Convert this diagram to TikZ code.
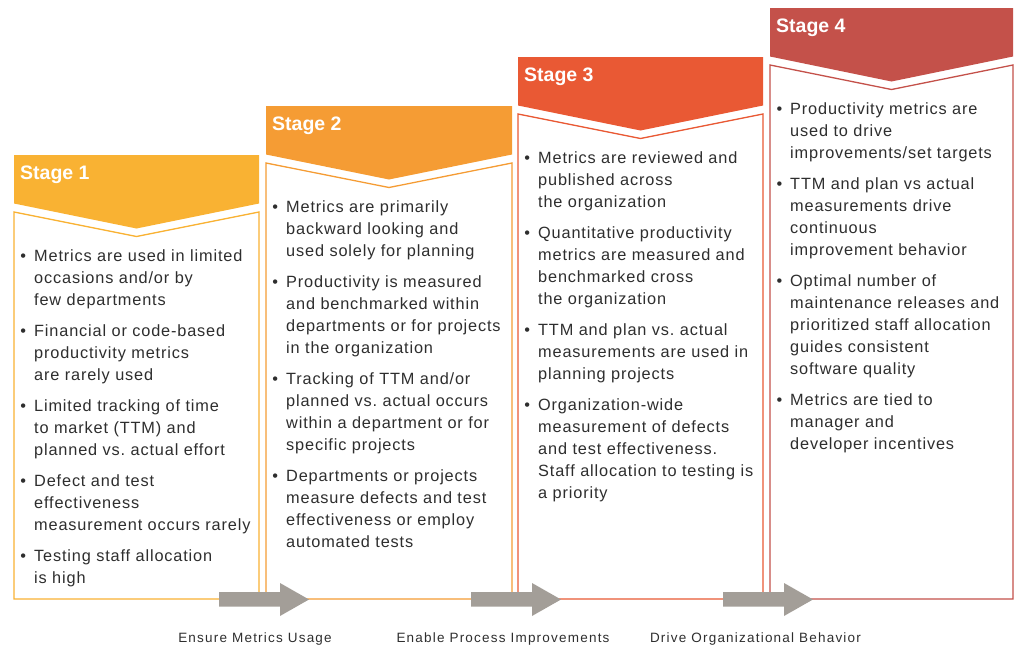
\documentclass[tikz,border=0pt]{standalone}
\usepackage{fontspec}
\setmainfont{Liberation Sans}
\newfontfamily\bodyfont[LetterSpace=5.2]{Liberation Sans}
\newfontfamily\labelfont[LetterSpace=9]{Liberation Sans}

\definecolor{stageA}{HTML}{F9B233}
\definecolor{stageB}{HTML}{F59C34}
\definecolor{stageC}{HTML}{E95934}
\definecolor{stageD}{HTML}{C4514A}
\definecolor{bodytext}{HTML}{2E2E2E}
\definecolor{flowgray}{HTML}{A39E98}

% bullet hung into the left margin of an item
\newcommand\itembullet{\leavevmode\llap{\textbullet\hspace{8pt}}}

\tikzset{
  banner/.style={fill=#1},
  panel/.style={draw=#1, line width=1.3pt, fill=white},
  stagetitle/.style={anchor=base west, inner sep=0pt, text=white,
    font=\bfseries\fontsize{19.5}{22}\selectfont},
  body/.style={anchor=north west, inner sep=0pt, text width=300pt, align=left,
    text=bodytext, font=\bodyfont\fontsize{16.3}{22.05}\selectfont\frenchspacing},
  flowlabel/.style={anchor=base, inner sep=0pt, text=bodytext,
    font=\labelfont\fontsize{13.5}{16}\selectfont},
  flowarrow/.style={fill=flowgray}
}

\begin{document}
\begin{tikzpicture}[x=1pt,y=-1pt]
\useasboundingbox (0,0) rectangle (1015,646);

% stage panels and banners
\foreach \n/\L/\R/\T/\c in {1/14/259/155/stageA, 2/266/512/106/stageB,
                             3/518/763/57/stageC, 4/770/1013/8/stageD} {
  \pgfmathsetmacro\C{(\L+\R)/2}
  \draw[panel=\c] (\L,\T+57) -- (\C,\T+81.5) -- (\R,\T+57) -- (\R,599)
        -- (\L,599) -- cycle;
  \fill[banner=\c] (\L,\T) -- (\R,\T) -- (\R,\T+48.5) -- (\C,\T+73.5)
        -- (\L,\T+48.5) -- cycle;
  \node[stagetitle] (title\n) at (\L+6,\T+24.5) {Stage \n};
}

% flow arrows along the bottom edge
\foreach \ax in {219,471,723} {
  \fill[flowarrow] (\ax,592) -- (\ax+61,592) -- (\ax+61,583) -- (\ax+90,599.5)
        -- (\ax+61,616) -- (\ax+61,606.5) -- (\ax,606.5) -- cycle;
}

% panel contents
\node[body] (body1) at (34,247) {\rule{0pt}{14pt}%
\itembullet Metrics are used in limited\\ occasions and/or by\\ few departments\\[9pt]
\itembullet Financial or code-based\\ productivity metrics\\ are rarely used\\[9pt]
\itembullet Limited tracking of time\\ to market (TTM) and\\ planned vs. actual effort\\[9pt]
\itembullet Defect and test\\ effectiveness\\ measurement occurs rarely\\[9pt]
\itembullet Testing staff allocation\\ is high};

\node[body] (body2) at (286,198) {\rule{0pt}{14pt}%
\itembullet Metrics are primarily\\ backward looking and\\ used solely for planning\\[9pt]
\itembullet Productivity is measured\\ and benchmarked within\\ departments or for projects\\ in the organization\\[9pt]
\itembullet Tracking of TTM and/or\\ planned vs. actual occurs\\ within a department or for\\ specific projects\\[9pt]
\itembullet Departments or projects\\ measure defects and test\\ effectiveness or employ\\ automated tests};

\node[body] (body3) at (538,149) {\rule{0pt}{14pt}%
\itembullet Metrics are reviewed and\\ published across\\ the organization\\[9pt]
\itembullet Quantitative productivity\\ metrics are measured and\\ benchmarked cross\\ the organization\\[9pt]
\itembullet TTM and plan vs. actual\\ measurements are used in\\ planning projects\\[9pt]
\itembullet Organization-wide\\ measurement of defects\\ and test effectiveness.\\ Staff allocation to testing is\\ a priority};

\node[body] (body4) at (790,100) {\rule{0pt}{14pt}%
\itembullet Productivity metrics are\\ used to drive\\ improvements/set targets\\[9pt]
\itembullet TTM and plan vs actual\\ measurements drive\\ continuous\\ improvement behavior\\[9pt]
\itembullet Optimal number of\\ maintenance releases and\\ prioritized staff allocation\\ guides consistent\\ software quality\\[9pt]
\itembullet Metrics are tied to\\ manager and\\ developer incentives};

% arrow captions
\node[flowlabel] (cap1) at (255,642) {Ensure Metrics Usage};
\node[flowlabel] (cap2) at (503,642) {Enable Process Improvements};
\node[flowlabel] (cap3) at (755.5,642) {Drive Organizational Behavior};
\end{tikzpicture}
\end{document}
